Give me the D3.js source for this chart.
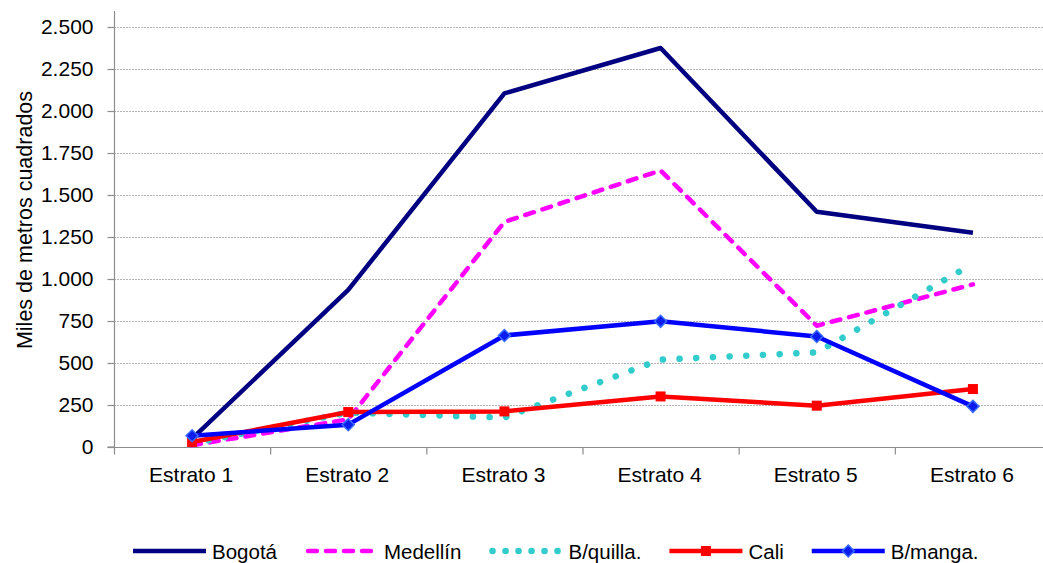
<!DOCTYPE html>
<html>
<head>
<meta charset="utf-8">
<script src="https://cdn.jsdelivr.net/npm/d3@7"></script>
<style>
  html, body { margin: 0; padding: 0; background: #fff; }
  svg { display: block; }
  text { font-family: "Liberation Sans", Arial, sans-serif; fill: #000; }
</style>
</head>
<body>
<svg id="chart" width="1043" height="563"></svg>
<script>
const categories = ["Estrato 1", "Estrato 2", "Estrato 3", "Estrato 4", "Estrato 5", "Estrato 6"];
const seriesNames = ["Bogotá", "Medellín", "B/quilla.", "Cali", "B/manga."];
const bogota   = [50, 935, 2105, 2375, 1400, 1275];
const medellin = [10, 165, 1340, 1646, 722, 968];
const bquilla  = [20, 205, 175, 520, 563, 1090];
const cali     = [30, 208, 212, 301, 246, 345];
const bmanga   = [67, 133, 664, 748, 658, 242];
const yTicks   = [0, 250, 500, 750, 1000, 1250, 1500, 1750, 2000, 2250, 2500];
const yTitle   = "Miles de metros cuadrados";

const seriesValues = [bogota, medellin, bquilla, cali, bmanga];
const styles = [
  { color: "#000080", width: 4.5, dash: null, cap: "butt", marker: null },
  { color: "#FF00FF", width: 4.5, dash: "9,9", cap: "round", marker: null },
  { color: "#33CCCC", width: 6.5, dash: "0.1,16.6", cap: "round", marker: null },
  { color: "#FF0000", width: 4.5, dash: null, cap: "butt", marker: "square" },
  { color: "#0000FF", width: 4.5, dash: null, cap: "butt", marker: "diamond" }
];

const svg = d3.select("#chart");
const pLeft = 114, pRight = 1051, pTop = 27, pBottom = 447;

const x = d3.scalePoint().domain(categories).range([pLeft, pRight]).padding(0.5);
const xBand = d3.scaleBand().domain(categories).range([pLeft, pRight]);
const y = d3.scaleLinear().domain([0, 2500]).range([pBottom, pTop]);

const loc = d3.formatLocale({ decimal: ",", thousands: ".", grouping: [3], currency: ["", ""] });
const fmt = loc.format(",");

// grid
svg.append("g").selectAll("line").data(yTicks.filter(d => d > 0)).join("line")
  .attr("x1", pLeft).attr("x2", 1043)
  .attr("y1", d => y(d) + 0.5).attr("y2", d => y(d) + 0.5)
  .attr("stroke", "#b4b4b4").attr("stroke-width", 1).attr("stroke-dasharray", "2,1");

// y axis
const yAxis = svg.append("g").attr("transform", `translate(${pLeft + 0.5},0)`)
  .call(d3.axisLeft(y).tickValues(yTicks).tickFormat(fmt).tickSize(7).tickPadding(14));
yAxis.select(".domain").attr("d", `M-7,${pBottom}H0V${pTop - 16}`).attr("stroke", "#8c8c8c").attr("stroke-width", 1.2);
yAxis.selectAll(".tick line").attr("stroke", "#8c8c8c").attr("stroke-width", 1.2);
yAxis.selectAll(".tick text").style("font-size", "21px").attr("fill", "#000")
  .style("font-family", "'Liberation Sans', Arial, sans-serif");

// x axis
const xAxis = svg.append("g").attr("transform", `translate(0,${pBottom + 0.5})`);
xAxis.append("line").attr("x1", pLeft).attr("x2", pRight).attr("y1", 0).attr("y2", 0)
  .attr("stroke", "#8c8c8c").attr("stroke-width", 1.2);
const bounds = categories.map(c => xBand(c)).concat([pRight]);
xAxis.selectAll("line.tk").data(bounds).join("line").attr("class", "tk")
  .attr("x1", d => d + 0.5).attr("x2", d => d + 0.5).attr("y1", 0).attr("y2", 7)
  .attr("stroke", "#8c8c8c").attr("stroke-width", 1.2);
xAxis.selectAll("text").data(categories).join("text")
  .attr("x", d => x(d) - 1).attr("y", 34)
  .attr("text-anchor", "middle").style("font-size", "21px").text(d => d);

// y title
svg.append("text")
  .attr("transform", `translate(32,220) rotate(-90)`)
  .attr("text-anchor", "middle").style("font-size", "21.5px").text(yTitle);

// lines
const lineGen = d3.line().x((d, i) => x(categories[i])).y(d => y(d));
seriesValues.forEach((vals, si) => {
  const st = styles[si];
  const g = svg.append("g");
  g.append("path").datum(vals).attr("d", lineGen)
    .attr("fill", "none").attr("stroke", st.color).attr("stroke-width", st.width)
    .attr("stroke-linejoin", "round").attr("stroke-linecap", st.cap)
    .attr("stroke-dasharray", st.dash);
  if (st.marker === "square") {
    g.selectAll("rect").data(vals).join("rect")
      .attr("x", (d, i) => x(categories[i]) - 5).attr("y", d => y(d) - 5)
      .attr("width", 10).attr("height", 10).attr("fill", st.color);
  } else if (st.marker === "diamond") {
    g.selectAll("path.m").data(vals).join("path").attr("class", "m")
      .attr("d", (d, i) => { const cx = x(categories[i]), cy = y(d), r = 6;
        return `M${cx},${cy - r}L${cx + r},${cy}L${cx},${cy + r}L${cx - r},${cy}Z`; })
      .attr("fill", "#0a1cf0").attr("stroke", "#3a6cff").attr("stroke-width", 1.5);
  }
});

// legend
const legend = svg.append("g").attr("transform", "translate(133,551)");
let lx = 0;
seriesNames.forEach((name, si) => {
  const st = styles[si];
  const it = legend.append("g").attr("transform", `translate(${lx},0)`);
  it.append("line").attr("x1", st.cap === "round" ? 3 : 0).attr("x2", st.cap === "round" ? 71 : 73)
    .attr("y1", 0).attr("y2", 0)
    .attr("stroke", st.color).attr("stroke-width", st.width)
    .attr("stroke-linecap", st.cap).attr("stroke-dasharray", si === 1 ? "9,9" : (si === 2 ? "0.1,12.9" : null));
  if (st.marker === "square") {
    it.append("rect").attr("x", 36.5 - 5).attr("y", -5).attr("width", 10).attr("height", 10).attr("fill", st.color);
  } else if (st.marker === "diamond") {
    it.append("path").attr("d", "M36.5,-6L42.5,0L36.5,6L30.5,0Z")
      .attr("fill", "#0a1cf0").attr("stroke", "#3a6cff").attr("stroke-width", 1.5);
  }
  const t = it.append("text").attr("x", 79).attr("y", 8).style("font-size", "20.5px").text(name);
  lx += 79 + t.node().getComputedTextLength() + 28;
});
</script>
</body>
</html>
